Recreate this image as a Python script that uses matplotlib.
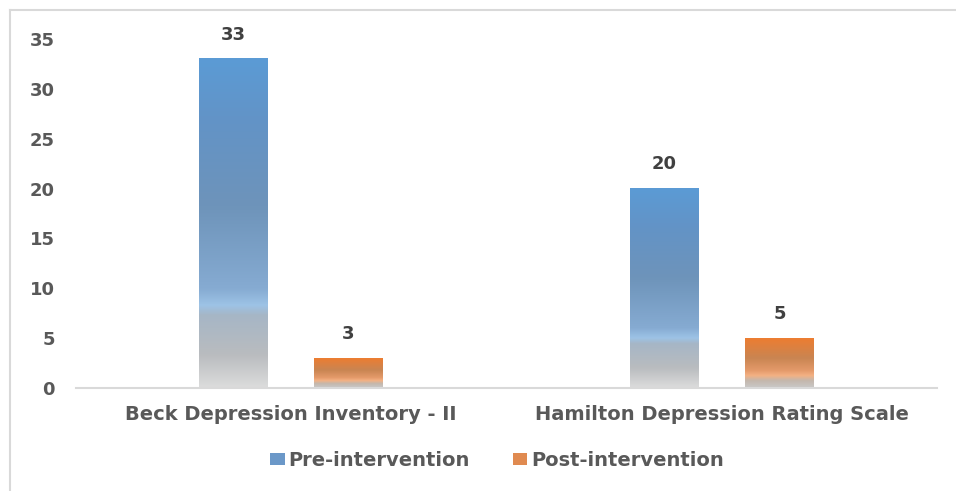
import numpy as np
import matplotlib
matplotlib.use('Agg')
import matplotlib.pyplot as plt
from matplotlib.colors import LinearSegmentedColormap
from matplotlib.patches import Patch
from matplotlib.lines import Line2D

categories = ['Beck Depression Inventory - II', 'Hamilton Depression Rating Scale']
series_names = ['Pre-intervention', 'Post-intervention']
pre_values = [33, 20]
post_values = [3, 5]
y_ticks = [0, 5, 10, 15, 20, 25, 30, 35]

TEXT = '#595959'
plt.rcParams['font.family'] = ['DejaVu Sans']
plt.rcParams['font.weight'] = 'bold'

# bottom -> top colour stops for the shaded bars
blue_cmap = LinearSegmentedColormap.from_list('pre', [
    (0.00, '#dcdcdc'), (0.10, '#b9bcbf'), (0.22, '#a6b6c6'),
    (0.25, '#9dc3e6'), (0.30, '#86abd2'), (0.55, '#6e94ba'),
    (0.80, '#6393c6'), (1.00, '#5b9bd5')])
orange_cmap = LinearSegmentedColormap.from_list('post', [
    (0.00, '#c9c9c9'), (0.15, '#c4b7ac'), (0.25, '#f4b183'),
    (0.35, '#e49a6a'), (0.60, '#c98552'), (1.00, '#ed7d31')])

fig = plt.figure(figsize=(9.56, 4.91), dpi=100)
ax = fig.add_axes([0.079, 0.2098, 0.9016, 0.7108])

x = np.arange(len(categories))
width = 0.158
offset = 0.1335

grad = np.linspace(0, 1, 256).reshape(-1, 1)
for vals, cmap, sign in [(pre_values, blue_cmap, -1), (post_values, orange_cmap, 1)]:
    bars = ax.bar(x + sign * offset, vals, width, color='none', edgecolor='none')
    for b, v in zip(bars, vals):
        x0 = b.get_x()
        ax.imshow(grad, cmap=cmap, origin='lower', aspect='auto',
                  extent=(x0, x0 + width, 0, v), zorder=2, interpolation='bilinear')
        ax.annotate(str(v), (x0 + width / 2, v), xytext=(0, 11),
                    textcoords='offset points', ha='center', va='bottom',
                    fontsize=13, fontweight='bold', color='#404040')

ax.set_xlim(-0.5, len(categories) - 0.5)
ax.set_ylim(0, 35)
ax.set_yticks(y_ticks)
ax.set_xticks(x)
ax.set_xticklabels(categories)
ax.tick_params(axis='y', length=0, pad=15, labelsize=13, labelcolor=TEXT)
ax.tick_params(axis='x', length=0, pad=12, labelsize=14, labelcolor=TEXT)
for s in ['top', 'right', 'left']:
    ax.spines[s].set_visible(False)
ax.spines['bottom'].set_color('#d9d9d9')
ax.spines['bottom'].set_linewidth(1.5)
ax.set_facecolor('none')

handles = [Patch(facecolor='#6b98c8'), Patch(facecolor='#e08a50')]
fig.legend(handles, series_names, loc='center', bbox_to_anchor=(0.52, 0.063),
           ncol=2, frameon=False, fontsize=14, handlelength=0.75, handleheight=0.55,
           handletextpad=0.2, columnspacing=2.2, labelcolor=TEXT)

# outer frame, visible on the left and top only
fig.add_artist(Line2D([0.0105, 0.0105], [0, 0.979], color='#d9d9d9', lw=1.5))
fig.add_artist(Line2D([0.0105, 1.0], [0.979, 0.979], color='#d9d9d9', lw=1.5))

fig.savefig('out.png', dpi=100)
